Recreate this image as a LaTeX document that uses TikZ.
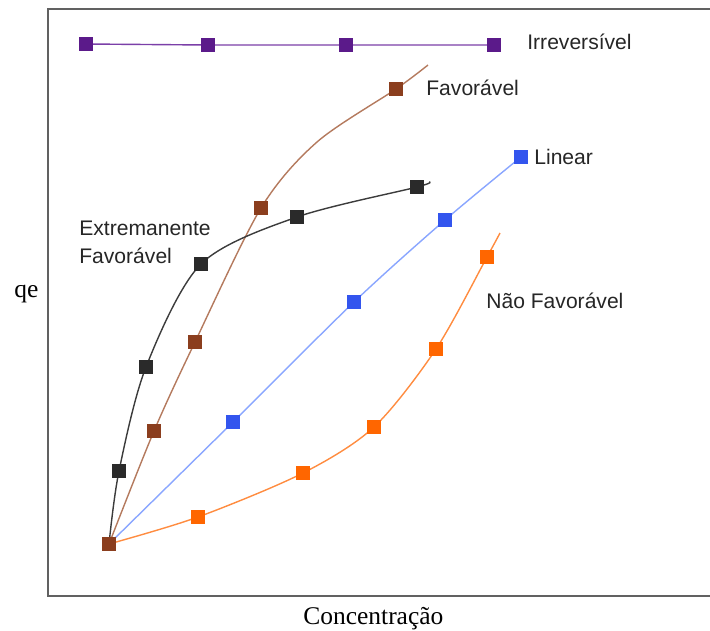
\documentclass[tikz,border=0pt]{standalone}
\usepackage{fontspec}
\setmainfont{Liberation Serif}
\setsansfont{Liberation Sans}
\usepackage{xcolor}
\usetikzlibrary{positioning}
\definecolor{irrmk}{HTML}{5B1A8A}
\definecolor{irrline}{HTML}{7B3FA8}
\definecolor{favmk}{HTML}{8B3E1E}
\definecolor{favline}{HTML}{B47A5E}
\definecolor{extmk}{HTML}{2A2A2A}
\definecolor{extline}{HTML}{3C3C3C}
\definecolor{linmk}{HTML}{3355EE}
\definecolor{linline}{HTML}{8AA6FF}
\definecolor{naomk}{HTML}{FF6600}
\definecolor{naoline}{HTML}{FF8C40}

\begin{document}
\begin{tikzpicture}[
    x=0.02cm, y=-0.02cm,
    mk/.style={rectangle, minimum size=0.27cm, inner sep=0pt},
    curve/.style={line width=0.8pt},
    lbl/.style={font=\sffamily\fontsize{12}{14}\selectfont, text=black!85, anchor=base west, inner sep=0pt},
    axlbl/.style={font=\fontsize{14.5}{16}\selectfont, anchor=base west, inner sep=0pt}
]
\useasboundingbox (0,0) rectangle (710,630);
% frame
\draw[line width=1.1pt, black!62] (710,9) -- (48,9) -- (48,596) -- (710,596);

% curves
\draw[curve, irrline] (86,44) -- (208,45) -- (346,45) -- (494,45);
\draw[curve, favline] plot[smooth] coordinates {(109,544) (154,431) (195,342) (261,208) (317,142) (396,89) (428,65)};
\draw[curve, extline] plot[smooth] coordinates {(109,544) (119,471) (146,367) (201,264) (297,217) (417,187) (429,182)};
\draw[curve, linline] plot[smooth] coordinates {(109,544) (233,422) (354,302) (445,220) (521,157)};
\draw[curve, naoline] plot[smooth] coordinates {(109,544) (198,517) (303,473) (374,427) (436,349) (487,257) (500,233)};

% markers
\foreach \x/\y [count=\i] in {86/44,208/45,346/45,494/45}
    \node[mk, fill=irrmk] (irr\i) at (\x,\y) {};
\foreach \x/\y [count=\i] in {154/431,195/342,261/208,396/89}
    \node[mk, fill=favmk] (fav\i) at (\x,\y) {};
\foreach \x/\y [count=\i] in {119/471,146/367,201/264,297/217,417/187}
    \node[mk, fill=extmk] (ext\i) at (\x,\y) {};
\foreach \x/\y [count=\i] in {233/422,354/302,445/220,521/157}
    \node[mk, fill=linmk] (lin\i) at (\x,\y) {};
\foreach \x/\y [count=\i] in {198/517,303/473,374/427,436/349,487/257}
    \node[mk, fill=naomk] (nao\i) at (\x,\y) {};
\node[mk, fill=favmk] (orig) at (109,544) {};

% labels
\node[lbl] (lirr) at (527,49) {Irreversível};
\node[lbl] (lfav) at (426,95) {Favorável};
\node[lbl] (llin) at (534,164) {Linear};
\node[lbl] (lnao) at (486,308) {Não Favorável};
\node[lbl] (lexta) at (79,235) {Extremanente};
\node[lbl] (lextb) at (79,263) {Favorável};
\node[axlbl] (qe) at (14,297) {qe};
\node[axlbl] (conc) at (303,624) {Concentração};
\end{tikzpicture}
\end{document}
